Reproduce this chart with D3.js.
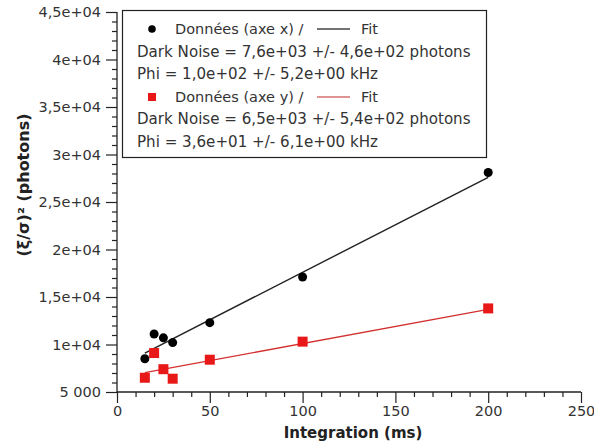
<!DOCTYPE html>
<html>
<head>
<meta charset="utf-8">
<script src="https://cdn.jsdelivr.net/npm/d3@7"></script>
<style>
  html, body { margin: 0; padding: 0; background: #fff; }
  svg { display: block; font-family: "DejaVu Sans", sans-serif; }
</style>
</head>
<body>
<svg id="chart" width="594" height="448"></svg>
<script>
// ---- data ----
const integrationX = [15, 20, 25, 30, 50, 100, 200];
const valuesAxeX = [8500, 11100, 10700, 10200, 12300, 17100, 28100];
const valuesAxeY = [6500, 9100, 7400, 6400, 8400, 10300, 13800];
const fitRangeX = [15, 200];
const fitAxeX = [9100, 27600];
const fitAxeY = [7040, 13700];
const yTickValues = [5000, 10000, 15000, 20000, 25000, 30000, 35000, 40000, 45000];
const yTickLabels = ["5 000", "1e+04", "1,5e+04", "2e+04", "2,5e+04", "3e+04", "3,5e+04", "4e+04", "4,5e+04"];
const xTickValues = [0, 50, 100, 150, 200, 250];
const xTickLabels = ["0", "50", "100", "150", "200", "250"];
const legendLines = [
  "Dark Noise = 7,6e+03 +/- 4,6e+02 photons",
  "Phi = 1,0e+02 +/- 5,2e+00 kHz",
  "Dark Noise = 6,5e+03 +/- 5,4e+02 photons",
  "Phi = 3,6e+01 +/- 6,1e+00 kHz"
];

const svg = d3.select("#chart");
const x = d3.scaleLinear().domain([0, 250]).range([117, 581]);
const y = d3.scaleLinear().domain([5000, 45000]).range([392, 12]);

const axisColor = "#222";
const textColor = "#333";

// y axis
const yAxis = d3.axisLeft(y)
  .tickValues(yTickValues)
  .tickFormat((d, i) => yTickLabels[i])
  .tickSize(11).tickPadding(5);
const yMinor = d3.axisLeft(y)
  .tickValues(d3.range(5000, 45001, 1000).filter(v => v % 5000 !== 0))
  .tickFormat("").tickSize(5);
const gy = svg.append("g").attr("transform", `translate(${x(0)},0)`).call(yAxis);
svg.append("g").attr("transform", `translate(${x(0)},0)`).call(yMinor)
  .call(g => g.select(".domain").remove());

// x axis
const xAxis = d3.axisBottom(x)
  .tickValues(xTickValues)
  .tickFormat((d, i) => xTickLabels[i])
  .tickSize(11).tickPadding(3);
const xMinor = d3.axisBottom(x)
  .tickValues(d3.range(0, 251, 10).filter(v => v % 50 !== 0))
  .tickFormat("").tickSize(5);
const gx = svg.append("g").attr("transform", `translate(0,${y(5000)})`).call(xAxis);
svg.append("g").attr("transform", `translate(0,${y(5000)})`).call(xMinor)
  .call(g => g.select(".domain").remove());

svg.selectAll(".domain").attr("stroke", axisColor).attr("stroke-width", 1.3);
svg.selectAll(".tick line").attr("stroke", axisColor).attr("stroke-width", 1.2);
svg.selectAll(".tick text").attr("fill", textColor).style("font-size", "14.5px")
  .style("font-family", "DejaVu Sans, sans-serif");
gy.select(".domain").attr("d", `M0,${y(45000)}V${y(5000)}`);
gx.select(".domain").attr("d", `M${x(0)},0H${x(250)}`);

// axis titles
svg.append("text")
  .attr("x", x(125) + 4).attr("y", 438)
  .attr("text-anchor", "middle")
  .attr("font-weight", "bold").attr("font-size", 15).attr("fill", "#222")
  .text("Integration (ms)");
svg.append("text")
  .attr("transform", `translate(29,185) rotate(-90)`)
  .attr("text-anchor", "middle")
  .attr("font-weight", "bold").attr("font-size", 16).attr("fill", "#222")
  .text("(ξ/σ)² (photons)");

// fit lines
const line = d3.line().x(d => x(d[0])).y(d => y(d[1]));
svg.append("path").datum(d3.zip(fitRangeX, fitAxeX))
  .attr("d", line).attr("stroke", "#222").attr("stroke-width", 1.4).attr("fill", "none");
svg.append("path").datum(d3.zip(fitRangeX, fitAxeY))
  .attr("d", line).attr("stroke", "#d43030").attr("stroke-width", 1.4).attr("fill", "none");

// points
svg.append("g").selectAll("circle").data(d3.zip(integrationX, valuesAxeX)).join("circle")
  .attr("cx", d => x(d[0])).attr("cy", d => y(d[1])).attr("r", 4.5).attr("fill", "#000");
const sq = 10;
svg.append("g").selectAll("rect").data(d3.zip(integrationX, valuesAxeY)).join("rect")
  .attr("x", d => x(d[0]) - sq / 2).attr("y", d => y(d[1]) - sq / 2)
  .attr("width", sq).attr("height", sq).attr("fill", "#e81818");

// legend
const lg = svg.append("g").attr("font-size", 14.5).attr("fill", textColor);
lg.append("rect").attr("x", 122.5).attr("y", 10.5).attr("width", 364).attr("height", 147)
  .attr("fill", "#fff").attr("stroke", "#222").attr("stroke-width", 1.2);
const rowY = [29, 52, 74, 97, 119, 142];
lg.append("circle").attr("cx", 152).attr("cy", rowY[0]).attr("r", 3.8).attr("fill", "#000");
lg.append("text").attr("x", 175).attr("y", rowY[0] + 5).text("Données (axe x) /");
lg.append("line").attr("x1", 317).attr("x2", 350).attr("y1", rowY[0]).attr("y2", rowY[0])
  .attr("stroke", "#444").attr("stroke-width", 1.3);
lg.append("text").attr("x", 361).attr("y", rowY[0] + 5).text("Fit");
lg.append("text").attr("x", 137).attr("y", rowY[1] + 5).attr("font-size", 15.1).text(legendLines[0]);
lg.append("text").attr("x", 137).attr("y", rowY[2] + 5).attr("font-size", 15.1).text(legendLines[1]);
lg.append("rect").attr("x", 148).attr("y", rowY[3] - 4).attr("width", 8).attr("height", 8).attr("fill", "#e81818");
lg.append("text").attr("x", 175).attr("y", rowY[3] + 5).text("Données (axe y) /");
lg.append("line").attr("x1", 317).attr("x2", 350).attr("y1", rowY[3]).attr("y2", rowY[3])
  .attr("stroke", "#d47070").attr("stroke-width", 1.3);
lg.append("text").attr("x", 361).attr("y", rowY[3] + 5).text("Fit");
lg.append("text").attr("x", 137).attr("y", rowY[4] + 5).attr("font-size", 15.1).text(legendLines[2]);
lg.append("text").attr("x", 137).attr("y", rowY[5] + 5).attr("font-size", 15.1).text(legendLines[3]);
</script>
</body>
</html>
